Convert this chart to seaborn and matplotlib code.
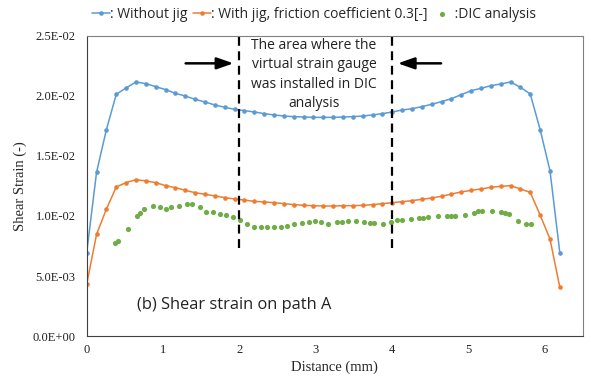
import matplotlib
matplotlib.use("Agg")
import matplotlib.pyplot as plt
from matplotlib.ticker import MultipleLocator, FuncFormatter
import numpy as np
import pandas as pd
import seaborn as sns

# distance along path A (mm), 49 evenly spaced FE nodes
distance = np.linspace(0, 6.2, 49)

# shear strain, x1e-3
without_jig = [6.94, 13.64, 17.2, 20.14, 20.67, 21.17, 21.03, 20.78, 20.53, 20.22,
               20.0, 19.72, 19.5, 19.25, 19.06, 18.89, 18.78, 18.67, 18.53, 18.42,
               18.33, 18.28, 18.25, 18.22, 18.22, 18.22, 18.25, 18.28, 18.33, 18.42,
               18.53, 18.67, 18.83, 18.94, 19.11, 19.31, 19.53, 19.78, 20.11, 20.44,
               20.64, 20.86, 21.0, 21.17, 20.72, 20.17, 17.2, 13.78, 6.94]
with_jig = [4.31, 8.47, 10.58, 12.42, 12.78, 13.03, 12.92, 12.78, 12.53, 12.36,
            12.14, 11.94, 11.81, 11.67, 11.53, 11.42, 11.33, 11.22, 11.17, 11.11,
            11.03, 10.95, 10.89, 10.86, 10.83, 10.83, 10.86, 10.86, 10.89, 10.94,
            11.03, 11.11, 11.19, 11.28, 11.39, 11.5, 11.64, 11.83, 12.0, 12.14,
            12.25, 12.39, 12.47, 12.53, 12.25, 11.97, 10.08, 8.08, 4.06]

# DIC measurement
dic_x = [0.371, 0.406, 0.537, 0.655, 0.699, 0.755, 0.865, 0.965, 1.035, 1.109,
         1.210, 1.311, 1.384, 1.481, 1.564, 1.659, 1.747, 1.826, 1.913, 2.009,
         2.105, 2.193, 2.280, 2.367, 2.455, 2.550, 2.629, 2.713, 2.818, 2.914,
         2.992, 3.067, 3.167, 3.277, 3.346, 3.421, 3.526, 3.634, 3.709, 3.769,
         3.879, 3.992, 4.071, 4.128, 4.246, 4.359, 4.411, 4.477, 4.600, 4.718,
         4.771, 4.827, 4.954, 5.076, 5.124, 5.177, 5.308, 5.430, 5.482, 5.535,
         5.649, 5.754, 5.819]
dic_y = [7.73, 7.92, 8.89, 10.0, 10.28, 10.56, 10.86, 10.78, 10.56, 10.78,
         10.86, 11.0, 10.97, 10.71, 10.33, 10.33, 10.19, 10.06, 9.89, 9.67,
         9.36, 9.08, 9.06, 9.06, 9.06, 9.06, 9.14, 9.33, 9.44, 9.53,
         9.56, 9.5, 9.36, 9.5, 9.5, 9.56, 9.61, 9.5, 9.44, 9.44,
         9.36, 9.53, 9.64, 9.67, 9.78, 9.81, 9.83, 9.94, 10.03, 10.0,
         10.0, 10.0, 10.08, 10.28, 10.39, 10.44, 10.39, 10.36, 10.28, 10.19,
         9.61, 9.33, 9.33]

fe = pd.DataFrame({"dist": distance,
                   "without": np.array(without_jig) * 1e-3,
                   "with": np.array(with_jig) * 1e-3})
dic = pd.DataFrame({"dist": dic_x, "strain": np.array(dic_y) * 1e-3})

sns.set_style("white")
plt.rcParams["font.family"] = ["Liberation Serif", "DejaVu Serif"]
SANS = ["Open Sans", "DejaVu Sans"]

BLUE = "#5B9BD5"
ORANGE = "#ED7D31"
GREEN = "#70AD47"

fig = plt.figure(figsize=(5.91, 3.82), dpi=100)
ax = fig.add_axes([0.1467, 0.1204, 0.8393, 0.7854])

sns.lineplot(data=fe, x="dist", y="without", ax=ax, color=BLUE, lw=1.1,
             marker="o", markersize=3.3, markeredgecolor=BLUE, markeredgewidth=0,
             label=": Without jig")
sns.lineplot(data=fe, x="dist", y="with", ax=ax, color=ORANGE, lw=1.1,
             marker="o", markersize=3.3, markeredgecolor=ORANGE, markeredgewidth=0,
             label=": With jig, friction coefficient 0.3[-]")
sns.scatterplot(data=dic, x="dist", y="strain", ax=ax, color=GREEN, s=14,
                linewidth=0, label=" :DIC analysis")

ax.set_xlim(0, 6.5)
ax.set_ylim(0, 0.025)
ax.xaxis.set_major_locator(MultipleLocator(1))
ax.xaxis.set_minor_locator(MultipleLocator(0.2))
ax.yaxis.set_major_locator(MultipleLocator(0.005))
ax.yaxis.set_minor_locator(MultipleLocator(0.001))
ax.yaxis.set_major_formatter(FuncFormatter(lambda v, p: f"{v:.1E}"))
ax.tick_params(which="both", direction="in", length=3.5, width=0.8, colors="#404040",
               labelsize=9, labelcolor="#222222")
ax.tick_params(axis="x", pad=6)
ax.tick_params(axis="y", pad=8)
for side in ["left", "bottom"]:
    ax.spines[side].set_color("#404040")
for side in ["top", "right"]:
    ax.spines[side].set_color("#808080")

ax.set_xlabel("Distance (mm)", fontsize=10.5, labelpad=3)
ax.set_ylabel("Shear Strain (-)", fontsize=10.5, labelpad=4)

# gauge area
for xv in [2, 4]:
    ax.axvline(xv, ymin=0.293, ymax=1.01, color="black", lw=1.6,
               ls=(0, (4, 2.5)), clip_on=False)
ax.annotate("", xy=(1.96, 0.02272), xytext=(1.26, 0.02272),
            arrowprops=dict(arrowstyle="-|>,head_length=1.0,head_width=0.35",
                            color="black", lw=1.8))
ax.annotate("", xy=(4.04, 0.02272), xytext=(4.68, 0.02272),
            arrowprops=dict(arrowstyle="-|>,head_length=1.0,head_width=0.35",
                            color="black", lw=1.8))
ax.text(2.98, 0.0218, "The area where the\nvirtual strain gauge\nwas installed in DIC\nanalysis",
        ha="center", va="center", fontsize=10, family=SANS, linespacing=1.4,
        color="#222222")
ax.text(0.655, 0.00258, "(b) Shear strain on path A", ha="left", va="center",
        fontsize=11.8, family=SANS, color="#222222")

handles, labels = ax.get_legend_handles_labels()
ax.get_legend().remove()
fig.legend(handles, labels, loc="center left", bbox_to_anchor=(0.156, 0.962),
           ncol=3, frameon=False, prop={"family": SANS, "size": 10},
           handlelength=1.3, handletextpad=0.0, columnspacing=0.4,
           borderpad=0, borderaxespad=0)

fig.savefig("out.png", dpi=100)
